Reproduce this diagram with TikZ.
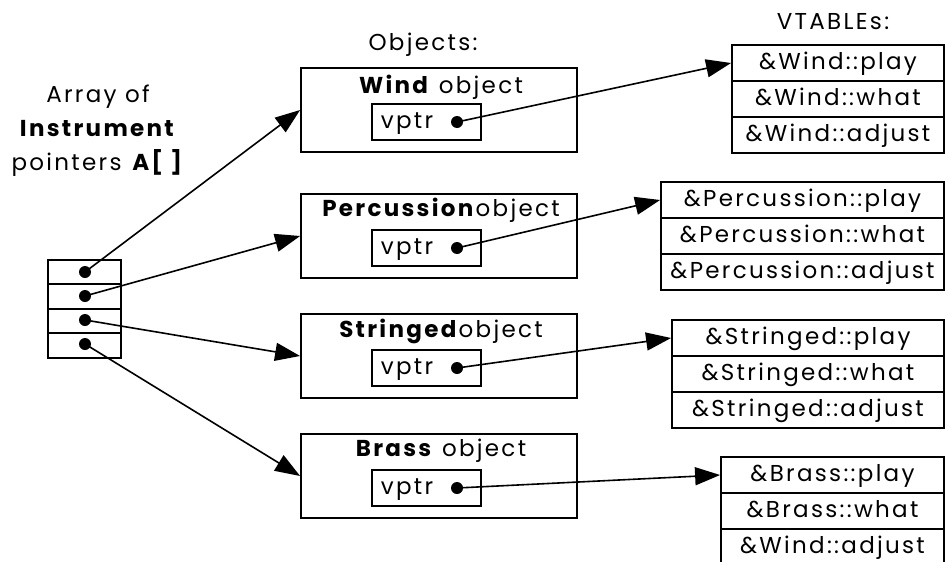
\documentclass[tikz,border=0pt]{standalone}
\usepackage{fontspec}
\setmainfont{Poppins}[LetterSpace=10]
\usetikzlibrary{arrows.meta,positioning}

\begin{document}
\begin{tikzpicture}[x=1pt,y=-1pt,
    every node/.style={font=\fontsize{23}{26}\selectfont},
    celda/.style={draw,line width=1.8pt,minimum width=73pt,minimum height=24.5pt,inner sep=0pt},
    objeto/.style={draw,line width=1.8pt,minimum width=276pt,minimum height=84pt,inner sep=0pt},
    vcaja/.style={draw,line width=1.8pt,minimum width=109pt,minimum height=36pt,inner sep=0pt},
    fila/.style={draw,line width=1.8pt,minimum height=36pt,inner sep=0pt,text height=16pt,text depth=4pt},
    punto/.style={circle,fill,inner sep=0pt,minimum size=12pt},
    flecha/.style={line width=1.6pt,-{Triangle[length=25pt,width=18pt]}}]
    \useasboundingbox (0,0) rectangle (948,562);

    % Títulos
    \node (tobj) at (423,45) {Objects:};
    \node (tvt) at (833,22) {VTABLEs:};
    \node[align=center,font=\fontsize{23}{34}\selectfont] (tarr) at (98,131)
        {Array of\\\textbf{Instrument}\\pointers \textbf{A[ ]}};

    % Arreglo
    \node[celda] (c1) at (84.5,272) {};
    \node[celda] (c2) at (84.5,296.5) {};
    \node[celda] (c3) at (84.5,321) {};
    \node[celda] (c4) at (84.5,345.5) {};
    \node[punto] (p1) at (85,272) {};
    \node[punto] (p2) at (85,296) {};
    \node[punto] (p3) at (85,320) {};
    \node[punto] (p4) at (85,344) {};

    % Objetos
    \node[objeto] (wind) at (439,110) {};
    \node (twind) at (441,87) {\textbf{Wind} object};
    \node[vcaja] (vwind) at (426.5,122) {};
    \node (xwind) at (407,124) {vptr};
    \node[punto] (dwind) at (457,122) {};

    \node[objeto] (perc) at (439,236) {};
    \node (tperc) at (441,210) {\textbf{Percussion}object};
    \node[vcaja] (vperc) at (426.5,248) {};
    \node (xperc) at (407,250) {vptr};
    \node[punto] (dperc) at (457,248) {};

    \node[objeto] (str) at (439,356) {};
    \node (tstr) at (441,331) {\textbf{Stringed}object};
    \node[vcaja] (vstr) at (426.5,368) {};
    \node (xstr) at (407,370) {vptr};
    \node[punto] (dstr) at (457,368) {};

    \node[objeto] (brass) at (439,476) {};
    \node (tbrass) at (441,451) {\textbf{Brass} object};
    \node[vcaja] (vbrass) at (426.5,488) {};
    \node (xbrass) at (407,490) {vptr};
    \node[punto] (dbrass) at (457,488) {};

    % VTABLEs
    \node[fila,minimum width=212pt] (w1) at (838,63) {\&Wind::play};
    \node[fila,minimum width=212pt] (w2) at (838,99) {\&Wind::what};
    \node[fila,minimum width=212pt] (w3) at (838,135) {\&Wind::adjust};

    \node[fila,minimum width=283pt] (pc1) at (802.5,200) {\&Percussion::play};
    \node[fila,minimum width=283pt] (pc2) at (802.5,236) {\&Percussion::what};
    \node[fila,minimum width=283pt] (pc3) at (802.5,272) {\&Percussion::adjust};

    \node[fila,minimum width=272pt] (s1) at (808,338) {\&Stringed::play};
    \node[fila,minimum width=272pt] (s2) at (808,374) {\&Stringed::what};
    \node[fila,minimum width=272pt] (s3) at (808,410) {\&Stringed::adjust};

    \node[fila,minimum width=223pt] (b1) at (832.5,475) {\&Brass::play};
    \node[fila,minimum width=223pt] (b2) at (832.5,511) {\&Brass::what};
    \node[fila,minimum width=223pt] (b3) at (832.5,547) {\&Wind::adjust};

    % Punteros
    \draw[flecha] (p1.center) -- (wind.west);
    \draw[flecha] (p2.center) -- (perc.west);
    \draw[flecha] (p3.center) -- (str.west);
    \draw[flecha] (p4.center) -- (brass.west);

    \draw[flecha] (dwind.center) -- (w1.west);
    \draw[flecha] (dperc.center) -- (pc1.west);
    \draw[flecha] (dstr.center) -- (s1.west);
    \draw[flecha] (dbrass.center) -- (b1.west);
\end{tikzpicture}
\end{document}
